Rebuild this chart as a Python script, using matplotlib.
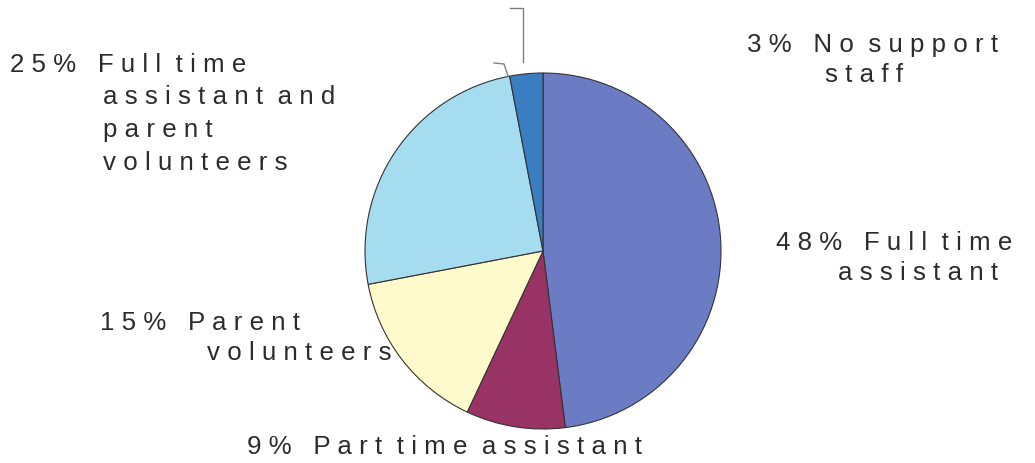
import matplotlib
matplotlib.use("Agg")
import matplotlib.pyplot as plt

# support staff in class, percentage of respondents
categories = ["Full time\nassistant", "Part time assistant", "Parent\nvolunteers",
              "Full time\nassistant and\nparent\nvolunteers", "No support\nstaff"]
values = [48, 9, 15, 25, 3]
colors = ["#6b7cc4", "#993366", "#fffacc", "#a6dcef", "#3a7dc0"]

plt.rcParams['font.family'] = ['Liberation Sans', 'DejaVu Sans']


def spaced(s):
    # the original labels have wide letter spacing
    return "\n".join("  ".join(" ".join(w) for w in line.split(" ")) for line in s.split("\n"))


fig = plt.figure(figsize=(10.35, 4.63), dpi=100)
fig.patch.set_facecolor("white")

cx, cy, r = 543, 251, 178
W, H = 1035, 463
ax = fig.add_axes([(cx - r) / W, (H - cy - r) / H, 2 * r / W, 2 * r / H])
ax.pie(values, colors=colors, startangle=90, counterclock=False,
       wedgeprops=dict(edgecolor="#333333", linewidth=0.8))
ax.set_xlim(-1, 1)
ax.set_ylim(-1, 1)
ax.set_aspect("equal")
ax.axis("off")


def px(x, y):
    return ((x - cx) / r, (cy - y) / r)


# label placement: (first line left x, first line center y, indent x, line step)
tc = "#2b2b2b"
fs = 18.6
lab = [
    (776, 243, 838, 30),
    (247, 447, None, 0),
    (100, 323, 207, 30),
    (10, 65, 103, 32.5),
    (747, 45, 825, 30),
]
for (x0, y0, x1, step), cat, v in zip(lab, categories, values):
    lines = cat.split("\n")
    first = spaced(f"{v}%") + "   " + spaced(lines[0])
    ax.text(*px(x0, y0), first, fontsize=fs, color=tc, ha="left", va="center", clip_on=False)
    for i, ln in enumerate(lines[1:], start=1):
        ax.text(*px(x1, y0 + i * step), spaced(ln), fontsize=fs, color=tc,
                ha="left", va="center", clip_on=False)

# leader lines near the small slice
lc = "#808080"
xs, ys = zip(px(510, 8), px(523, 8), px(523, 62))
ax.plot(xs, ys, color=lc, lw=1, clip_on=False)
xs, ys = zip(px(494, 63), px(504, 64), px(508, 76))
ax.plot(xs, ys, color=lc, lw=1, clip_on=False)

fig.savefig("out.png", dpi=100, facecolor="white")
